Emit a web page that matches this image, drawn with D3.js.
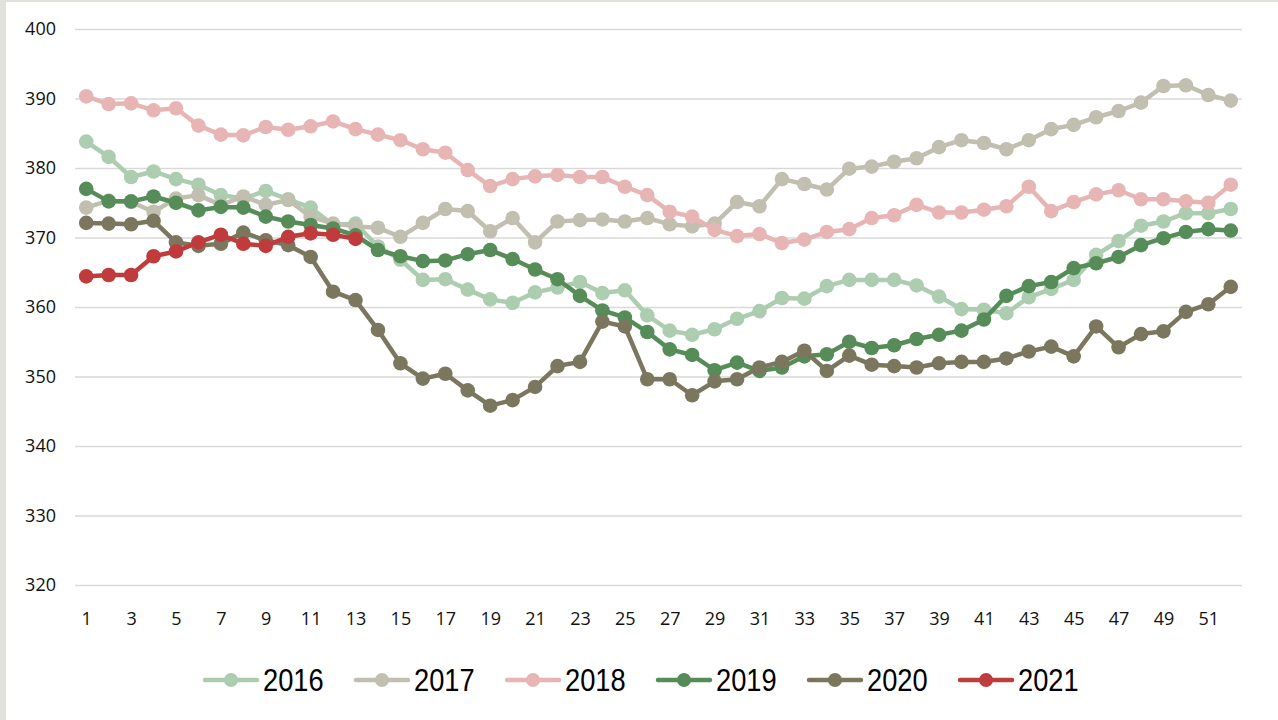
<!DOCTYPE html>
<html>
<head>
<meta charset="utf-8">
<script src="https://cdn.jsdelivr.net/npm/d3@7"></script>
<style>
  html, body { margin: 0; padding: 0; background: #e2e2dd; }
  svg { display: block; }
</style>
</head>
<body>
<svg id="chart" width="1278" height="720"></svg>
<script>
// Weekly values, weeks 1..52
const weeks = d3.range(1, 53);
const years = ["2016", "2017", "2018", "2019", "2020", "2021"];
const colors = ["#adcdb0", "#c1bfaf", "#e8b5b5", "#568c58", "#7a775e", "#c03c3c"];
const yTicks = [320, 330, 340, 350, 360, 370, 380, 390, 400];
const xTickLabels = weeks.filter(w => w % 2 === 1);

const s2016 = [383.8, 381.6, 378.7, 379.5, 378.4, 377.6, 376.1, 375.6, 376.7, 375.5,
  374.3, 371.8, 372.0, 368.7, 366.8, 363.9, 364.0, 362.5, 361.1, 360.6,
  362.1, 362.8, 363.6, 362.0, 362.4, 358.8, 356.6, 356.0, 356.8, 358.3,
  359.4, 361.3, 361.2, 363.0, 363.9, 363.9, 363.9, 363.1, 361.5, 359.7,
  359.6, 359.1, 361.4, 362.6, 363.9, 367.5, 369.5, 371.7, 372.3, 373.5,
  373.5, 374.1];
const s2017 = [374.3, 375.3, 375.1, 373.7, 375.6, 376.1, 374.7, 375.9, 374.7, 375.4,
  373.0, 372.0, 371.6, 371.4, 370.1, 372.1, 374.1, 373.8, 370.9, 372.8,
  369.3, 372.3, 372.5, 372.6, 372.3, 372.8, 371.9, 371.6, 372.0, 375.1,
  374.5, 378.4, 377.7, 376.9, 379.9, 380.2, 380.9, 381.4, 383.0, 384.0,
  383.6, 382.7, 384.0, 385.6, 386.2, 387.3, 388.2, 389.4, 391.8, 391.9,
  390.5, 389.7];
const s2018 = [390.3, 389.2, 389.3, 388.3, 388.6, 386.1, 384.8, 384.7, 385.9, 385.5,
  386.0, 386.7, 385.6, 384.8, 384.0, 382.7, 382.2, 379.7, 377.4, 378.4,
  378.8, 379.0, 378.7, 378.7, 377.3, 376.1, 373.7, 373.0, 371.1, 370.2,
  370.5, 369.2, 369.7, 370.8, 371.2, 372.8, 373.2, 374.7, 373.6, 373.6,
  374.0, 374.5, 377.3, 373.8, 375.1, 376.2, 376.8, 375.5, 375.5, 375.2,
  375.0, 377.6];
const s2019 = [377.0, 375.2, 375.2, 375.9, 375.0, 373.9, 374.4, 374.3, 373.0, 372.3,
  371.8, 371.3, 370.3, 368.2, 367.3, 366.6, 366.7, 367.6, 368.2, 366.9,
  365.4, 364.0, 361.6, 359.5, 358.5, 356.4, 353.9, 353.1, 350.9, 352.0,
  350.8, 351.3, 352.9, 353.2, 355.0, 354.1, 354.5, 355.4, 356.0, 356.6,
  358.2, 361.6, 363.0, 363.6, 365.6, 366.3, 367.2, 368.9, 369.9, 370.8,
  371.2, 371.0];
const s2020 = [372.1, 372.0, 371.9, 372.4, 369.3, 368.8, 369.1, 370.7, 369.6, 368.9,
  367.2, 362.2, 361.0, 356.7, 351.9, 349.7, 350.4, 348.0, 345.8, 346.6,
  348.5, 351.5, 352.1, 357.9, 357.2, 349.6, 349.6, 347.3, 349.3, 349.6,
  351.3, 352.1, 353.7, 350.8, 353.0, 351.7, 351.5, 351.3, 351.9, 352.1,
  352.1, 352.6, 353.6, 354.3, 352.9, 357.2, 354.2, 356.1, 356.5, 359.3,
  360.4, 362.9];
const s2021 = [364.4, 364.6, 364.6, 367.3, 368.0, 369.3, 370.4, 369.1, 368.8, 370.1,
  370.6, 370.4, 369.8];

const seriesValues = [s2016, s2017, s2018, s2019, s2020, s2021];

const svg = d3.select("#chart");

// white chart panel inside the thin grey frame
svg.append("rect")
  .attr("x", 6).attr("y", 2)
  .attr("width", 1272).attr("height", 718)
  .attr("fill", "#ffffff");

const plot = { left: 75, right: 1242, top: 29, bottom: 585 };

const x = d3.scalePoint()
  .domain(weeks)
  .range([plot.left, plot.right])
  .padding(0.5);

const y = d3.scaleLinear()
  .domain([320, 400])
  .range([plot.bottom, plot.top]);

const tickFont = "'Open Sans', 'Liberation Sans', sans-serif";

// horizontal gridlines + value labels
const yAxis = d3.axisLeft(y)
  .tickValues(yTicks)
  .tickSize(-(plot.right - plot.left))
  .tickPadding(19)
  .tickFormat(d3.format("d"));

const gy = svg.append("g")
  .attr("transform", `translate(${plot.left},0)`)
  .call(yAxis);
gy.select(".domain").remove();
gy.selectAll(".tick line")
  .attr("stroke", "#d9d9d9")
  .attr("stroke-width", 1.5);
gy.selectAll(".tick text")
  .attr("fill", "#111")
  .style("font-family", tickFont)
  .style("font-size", "18px");

// week labels along the bottom
const xAxis = d3.axisBottom(x)
  .tickValues(xTickLabels)
  .tickSize(0)
  .tickPadding(27);
const gx = svg.append("g")
  .attr("transform", `translate(0,${plot.bottom})`)
  .call(xAxis);
gx.select(".domain").remove();
gx.selectAll(".tick text")
  .attr("fill", "#111")
  .style("font-family", tickFont)
  .style("font-size", "18px");

// one line with round markers per year
const line = d3.line()
  .x((d, i) => x(weeks[i]))
  .y(d => y(d));

years.forEach((yr, k) => {
  const vals = seriesValues[k];
  const g = svg.append("g").attr("class", "series-" + yr);
  g.append("path")
    .datum(vals)
    .attr("fill", "none")
    .attr("stroke", colors[k])
    .attr("stroke-width", 4.5)
    .attr("stroke-linejoin", "round")
    .attr("d", line);
  g.selectAll("circle")
    .data(vals)
    .join("circle")
    .attr("cx", (d, i) => x(weeks[i]))
    .attr("cy", d => y(d))
    .attr("r", 7.3)
    .attr("fill", colors[k]);
});

// legend
const legendStart = 205, legendStep = 151, legendY = 680;
const legend = svg.append("g");
years.forEach((yr, k) => {
  const gx0 = legendStart + k * legendStep;
  const item = legend.append("g").attr("transform", `translate(${gx0},${legendY})`);
  item.append("line")
    .attr("x1", 0).attr("x2", 52)
    .attr("y1", 0).attr("y2", 0)
    .attr("stroke", colors[k])
    .attr("stroke-width", 4.5)
    .attr("stroke-linecap", "round");
  item.append("circle")
    .attr("cx", 26).attr("cy", 0).attr("r", 7)
    .attr("fill", colors[k]);
  // condensed year label
  item.append("text")
    .attr("transform", "translate(58,0) scale(0.88,1)")
    .attr("dy", "0.36em")
    .attr("fill", "#000")
    .style("font-family", "'Liberation Sans', sans-serif")
    .style("font-size", "31px")
    .text(yr);
});
</script>
</body>
</html>
